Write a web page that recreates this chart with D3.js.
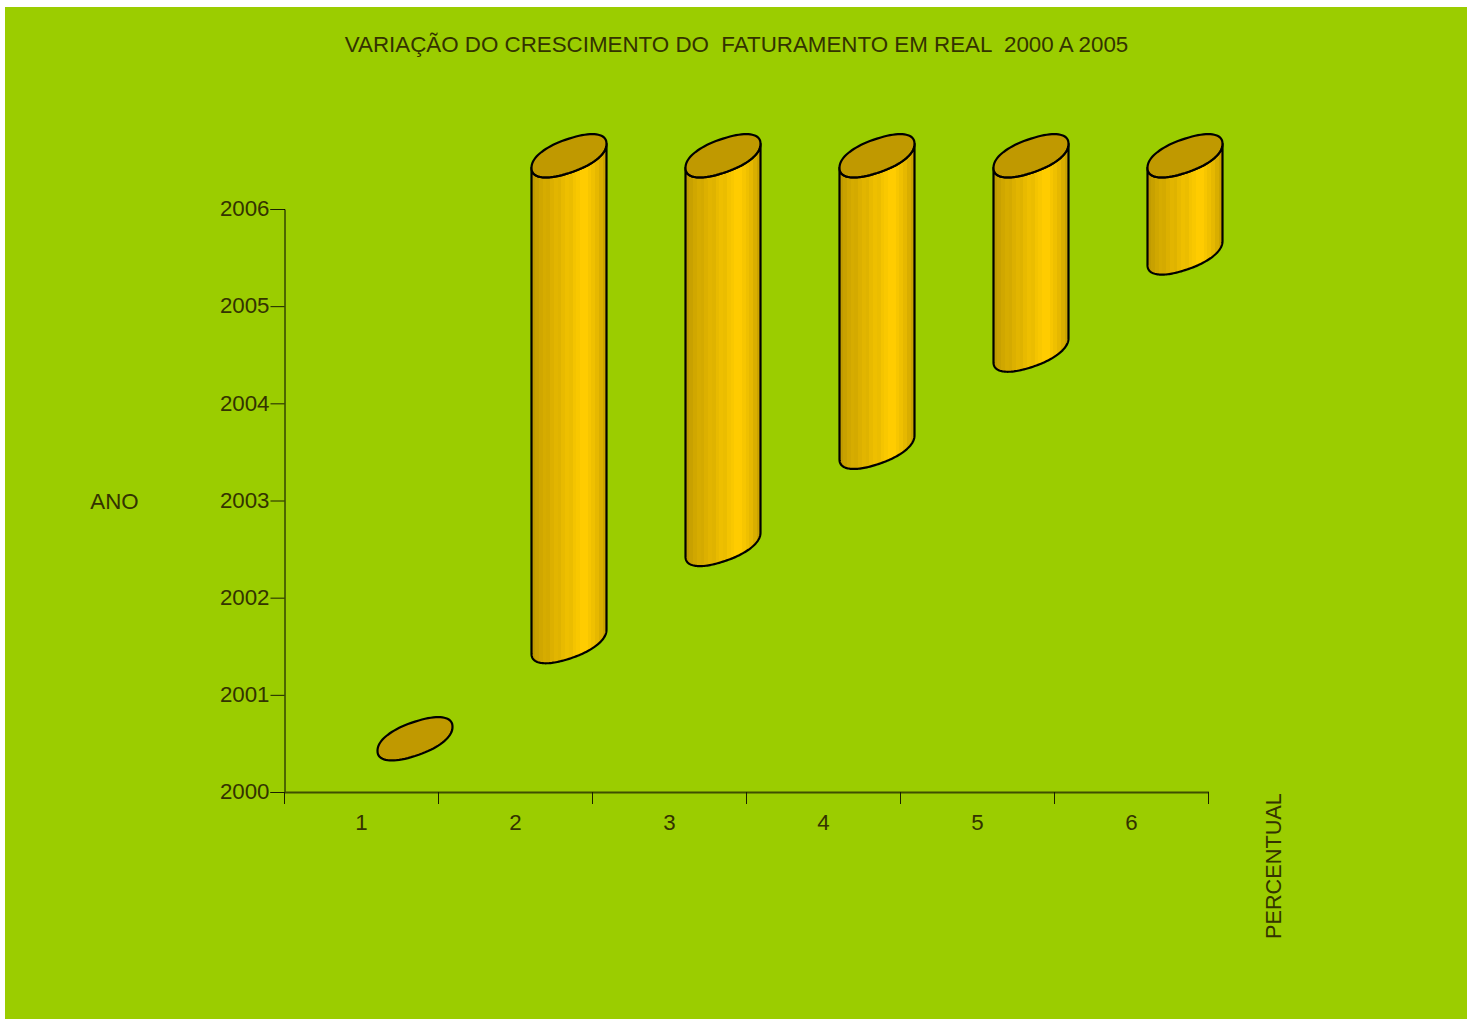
<!DOCTYPE html>
<html><head><meta charset="utf-8">
<script src="https://cdn.jsdelivr.net/npm/d3@7/dist/d3.min.js"></script>
<style>html,body{margin:0;padding:0;background:#fff;overflow:hidden}svg{display:block}text{font-family:"Liberation Sans",Arial,sans-serif}</style>
</head><body><script>
const categories = ["1","2","3","4","5","6"];
const seriesStart = [2000,2001,2002,2003,2004,2005];
const seriesEnd = [2000,2006,2006,2006,2006,2006];
const yearTicks = [2000,2001,2002,2003,2004,2005,2006];
const bandColours = ["#c09b00","#c8a100","#d0a700","#d6ac00","#d4aa00","#dcb000","#e2b500","#dfb300","#e8ba00","#eebf00","#ebbd00","#f4c400","#f9c800","#ffcc00","#ffcc00","#f7c600","#efc000","#e6b800","#d9ae00","#cba300"];
const titleText = "VARIAÇÃO DO CRESCIMENTO DO  FATURAMENTO EM REAL  2000 A 2005";
const W=1467,H=1021,textCol="#333300",axisCol="#1a2000",font="22.3px";
const svg=d3.select("body").append("svg").attr("width",W).attr("height",H);
svg.append("rect").attr("x",5).attr("y",7).attr("width",1462).attr("height",1012).attr("fill","#9bcd00");
const x=d3.scaleBand().domain(categories).range([284.5,1208.5]);
const y=d3.scaleLinear().domain([2000,2006]).range([792,209]);
const defs=svg.append("defs");
const grad=defs.append("linearGradient").attr("id","cyl");
bandColours.forEach((c,i)=>{const n=bandColours.length;
 grad.append("stop").attr("offset",i/n).attr("stop-color",c);
 grad.append("stop").attr("offset",(i+1)/n).attr("stop-color",c);});
const rx=37.5,sh=12,ry=17.2,dx=54,dy=53.2,p=.9;
const sp=v=>Math.sign(v)*Math.pow(Math.abs(v),p);
const pt=(cx,cy,t)=>{const c=sp(Math.cos(t)),s=sp(Math.sin(t));return [cx+rx*c,cy-sh*c+ry*s];};
const arc=(cx,cy,a,b)=>d3.range(0,81).map(i=>pt(cx,cy,a+(b-a)*i/80));
const line=d3.line();
const g=svg.append("g");
categories.forEach((c,i)=>{
 const cx=x(c)+x.bandwidth()/2+dx-.5, top=y(seriesEnd[i])-dy, bot=y(seriesStart[i])-dy;
 if(bot>top){
  const pts=[...arc(cx,top,Math.PI,0),...arc(cx,bot,0,Math.PI)];
  g.append("path").attr("d",line(pts)+"Z").attr("fill","url(#cyl)").attr("stroke","#000").attr("stroke-width",2.2).attr("stroke-linejoin","round");
 }
 g.append("path").attr("d",line(arc(cx,top,0,2*Math.PI))+"Z").attr("fill","#c09900").attr("stroke","#000").attr("stroke-width",2.2);
});
const ya=svg.append("g").attr("transform","translate(284.5,0)").call(d3.axisLeft(y).tickValues(yearTicks).tickFormat(d3.format("d")).tickSize(14).tickPadding(0));
ya.select(".domain").attr("stroke","#000").attr("stroke-width",1);
ya.selectAll("line").attr("stroke",axisCol);
ya.selectAll("text").attr("fill",textCol).attr("x",-15).attr("y",-1).attr("dy",".35em").style("font-size",font).style("font-family","Liberation Sans");
const xa=svg.append("g").attr("transform","translate(0,792)").call(d3.axisBottom(x).tickSize(0).tickPadding(0));
xa.select(".domain").attr("stroke","#3f4f00").attr("stroke-width",2);
xa.selectAll("text").attr("fill",textCol).attr("y",30).attr("dy",".35em").style("font-size",font).style("font-family","Liberation Sans");
d3.range(0,7).forEach(i=>svg.append("line").attr("x1",284.5+154*i).attr("x2",284.5+154*i).attr("y1",792).attr("y2",804).attr("stroke",axisCol));
svg.append("text").attr("x",736.5).attr("y",52).attr("text-anchor","middle").attr("fill",textCol).attr("xml:space","preserve").style("white-space","pre").style("font-size","22.35px").text(titleText);
svg.append("text").attr("x",114.5).attr("y",509).attr("text-anchor","middle").attr("fill",textCol).style("font-size",font).text("ANO");
svg.append("text").attr("transform","translate(1281,939) rotate(-90)").attr("fill",textCol).style("font-size","21.7px").text("PERCENTUAL");
</script></body></html>
